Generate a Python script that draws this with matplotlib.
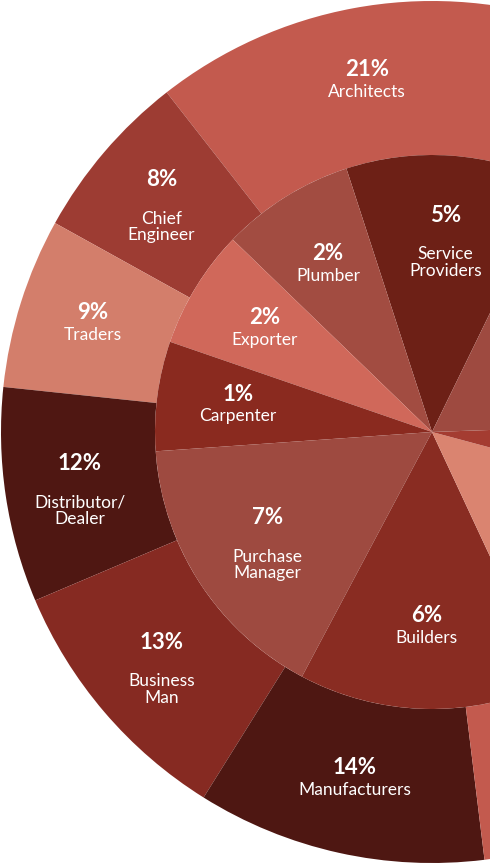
import matplotlib
matplotlib.use("Agg")
import matplotlib.pyplot as plt
import numpy as np

# Outer ring
outer_labels = ["Architects", "Chief\nEngineer", "Traders", "Distributor/\nDealer", "Business\nMan", "Manufacturers", ""]
outer_pcts = ["21%", "8%", "9%", "12%", "13%", "14%", ""]
outer_span = [55, 23, 23, 29, 35, 39, 156]   # angular size (deg) as drawn
outer_colors = ["#c35a4e", "#9d3c33", "#d37e6b", "#4f1712", "#862a22", "#4e1712", "#c35a4e"]

# Inner pie
inner_labels = ["Service\nProviders", "Plumber", "Exporter", "Carpenter", "Purchase\nManager", "Builders", "", "", ""]
inner_pcts = ["5%", "2%", "2%", "1%", "7%", "6%", "", "", ""]
inner_span = [44, 28, 25, 23, 58, 53, 50, 17, 62]
inner_colors = ["#6d2016", "#a24c41", "#d0685a", "#8a2a1f", "#9e4a40", "#892c22", "#da8470", "#a43c31", "#9e4a40"]

W, H = 490, 863
fig = plt.figure(figsize=(W/100, H/100), dpi=100)
ax = fig.add_axes([0, 0, 1, 1])
ax.set_xlim(0, W); ax.set_ylim(0, H); ax.set_aspect("equal"); ax.axis("off")
cx, cy = 432, 431
R_out, R_in = 431, 277

ax.pie(outer_span, colors=outer_colors, radius=R_out, center=(cx, cy), startangle=73,
       counterclock=True, wedgeprops=dict(width=R_out - R_in, linewidth=0))
ax.pie(inner_span, colors=inner_colors, radius=R_in, center=(cx, cy), startangle=64,
       counterclock=True, wedgeprops=dict(linewidth=0))
ax.set_xlim(0, W); ax.set_ylim(0, H)

fam = ["Lato", "DejaVu Sans"]
def place(spans, start, r, labels, pcts):
    a = start
    for s, lab, p in zip(spans, labels, pcts):
        mid = np.deg2rad(a + s/2)
        a += s
        if not lab:
            continue
        x, y = cx + r*np.cos(mid), cy + r*np.sin(mid)
        nl = lab.count("\n")
        ax.text(x, y + 12 + 9*nl, p, ha="center", va="center", color="white",
                fontsize=16, fontweight="bold", family=fam)
        ax.text(x, y - 10 + 0*nl, lab, ha="center", va="top" if nl else "center",
                color="white", fontsize=12.5, family=fam, linespacing=1.05)

place(outer_span, 73, 356, outer_labels, outer_pcts)
place(inner_span, 64, 196, inner_labels, inner_pcts)

fig.savefig("out.png", dpi=100)
